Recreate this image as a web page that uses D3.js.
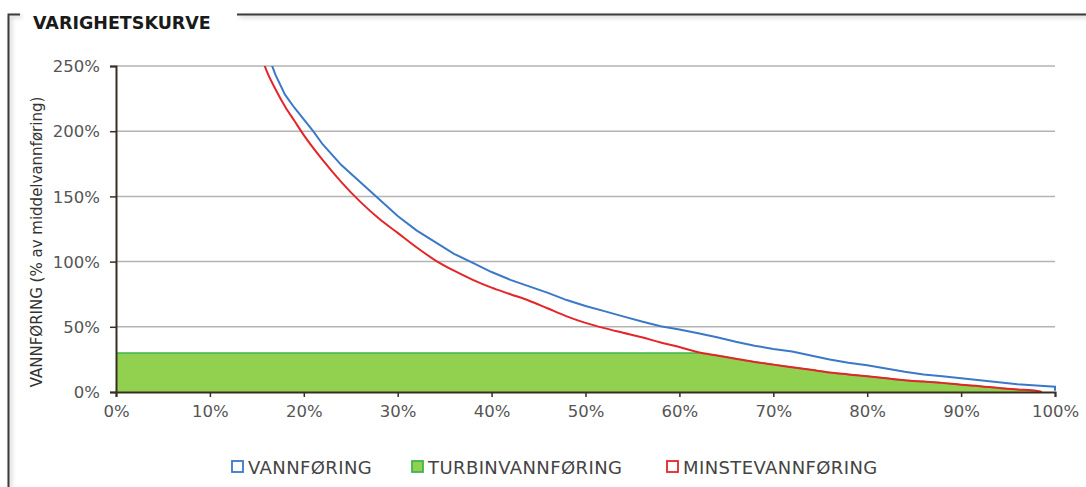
<!DOCTYPE html>
<html><head><meta charset="utf-8">
<script src="https://cdn.jsdelivr.net/npm/d3@7"></script>
<style>
body{margin:0;background:#fff;}
text{font-family:"DejaVu Sans",sans-serif;}
</style></head>
<body><svg id="c" width="1086" height="487"></svg>
<script>
const title = "VARIGHETSKURVE";
const yTitle = "VANNFØRING (% av middelvannføring)";
const xTicks = [0,10,20,30,40,50,60,70,80,90,100];
const yTicks = [0,50,100,150,200,250];
const legendLabels = ["VANNFØRING","TURBINVANNFØRING","MINSTEVANNFØRING"];

const vannDur = [16,17,18,19,20,21,22,24,26,28,30,32,34,36,38,40,42,44,46,48,50,52,54,56,58,60,62,64,66,68,70,72,74,76,78,80,82,84,86,88,90,92,94,96,98,100,100];
const vannVal = [262,243,228,218,209,200,190,174,161,148,135,124,115,106,99,92,86,81,76,70.5,66,62,58,54,50.5,48,45,42,38.5,35.5,33,31,28,25,22.5,20.5,18,15.5,13.5,12,10.5,9,7.5,6,5,4,1];

const minsteDur = [15.5,16,17,18,19,20,22,24,26,28,30,32,34,36,38,40,42,44,46,48,50,52,54,56,58,60,62,64,66,68,70,72,74,76,78,80,82,84,86,88,90,92,94,96,98,98.6];
const minsteVal = [257,247,232,219,208,197,178,161,146,133,122,111,101,93,86,80,75,70,64,58,53,49,45.5,42,38,34.5,30.5,28,25.5,23,21,19,17,15,13.5,12,10.5,9,8,7,5.5,4.5,3,2,1,0];

const turbinDur = [0,62,64,66,68,70,72,74,76,78,80,82,84,86,88,90,92,94,96,98,98.6];
const turbinVal = [30,30,28,25.5,23,21,19,17,15,13.5,12,10.5,9,8,7,5.5,4.5,3,2,1,0];

const colors = {vann:"#3b78c8", turbin:"#92d050", turbinLine:"#3fb54f", minste:"#e3262a"};

const svg = d3.select("#c");
const m = {l:116, r:1055, t:66, b:392};
const x = d3.scaleLinear().domain([0,100]).range([m.l,m.r]);
const y = d3.scaleLinear().domain([0,250]).range([m.b,m.t]);

// frame
const defs = svg.append("defs");
const f = defs.append("filter").attr("id","sh").attr("x","-5%").attr("y","-50%").attr("width","110%").attr("height","300%");
f.append("feGaussianBlur").attr("in","SourceAlpha").attr("stdDeviation",2);
f.append("feOffset").attr("dx",2).attr("dy",2).attr("result","b");
f.append("feComponentTransfer").append("feFuncA").attr("type","linear").attr("slope",0.25);
const fm = f.append("feMerge"); fm.append("feMergeNode"); fm.append("feMergeNode").attr("in","SourceGraphic");
const frame = svg.append("g").attr("filter","url(#sh)");
frame.append("path").attr("d","M20,14.5 H8.5 V487").attr("fill","none").attr("stroke","#3a3a3a").attr("stroke-width",2);
frame.append("path").attr("d","M237,14.5 H1086").attr("fill","none").attr("stroke","#3a3a3a").attr("stroke-width",2);
svg.append("text").attr("x",33).attr("y",29).attr("font-weight",700).attr("font-size",17.5)
  .attr("fill","#1a1a1a").text(title);

// grid
svg.append("g").selectAll("line").data(yTicks.filter(d=>d>0)).join("line")
  .attr("x1",m.l).attr("x2",m.r).attr("y1",d=>y(d)).attr("y2",d=>y(d))
  .attr("stroke","#b3b3b3").attr("stroke-width",1.5);

// turbine area
const clip = defs.append("clipPath").attr("id","pc");
clip.append("rect").attr("x",m.l).attr("y",m.t).attr("width",m.r-m.l+4).attr("height",m.b-m.t);
const area = d3.area().x((d,i)=>x(turbinDur[i])).y0(y(0)).y1(d=>y(d));
svg.append("path").datum(turbinVal).attr("d",area).attr("fill",colors.turbin);
svg.append("path").datum(turbinVal).attr("d",d3.line().x((d,i)=>x(turbinDur[i])).y(d=>y(d)))
  .attr("fill","none").attr("stroke",colors.turbinLine).attr("stroke-width",1.5);

// curves
const g = svg.append("g").attr("clip-path","url(#pc)");
g.append("path").datum(minsteVal).attr("d",d3.line().x((d,i)=>x(minsteDur[i])).y(d=>y(d)).curve(d3.curveMonotoneX))
  .attr("fill","none").attr("stroke",colors.minste).attr("stroke-width",2);
g.append("path").datum(vannVal).attr("d",d3.line().x((d,i)=>x(vannDur[i])).y(d=>y(d)).curve(d3.curveLinear))
  .attr("fill","none").attr("stroke",colors.vann).attr("stroke-width",2);

// axes
const xa = svg.append("g").attr("transform",`translate(0,${m.b})`)
  .call(d3.axisBottom(x).tickValues(xTicks).tickFormat(d=>d+"%").tickSizeOuter(0).tickSize(5).tickPadding(8));
const ya = svg.append("g").attr("transform",`translate(${m.l},0)`)
  .call(d3.axisLeft(y).tickValues(yTicks).tickFormat(d=>d+"%").tickSizeOuter(0).tickSize(6).tickPadding(10));
[xa,ya].forEach(a=>{
  a.select(".domain").attr("stroke","#3a2e22").attr("stroke-width",2);
  a.selectAll(".tick line").attr("stroke","#3a2e22").attr("stroke-width",1.5);
  a.selectAll("text").attr("font-size",16.5).attr("fill","#555").attr("font-family","'DejaVu Sans',sans-serif");
});
xa.selectAll("text").attr("dy","0.71em");
ya.selectAll("text").attr("dy","0.35em");

svg.append("text").attr("transform",`translate(42,${(m.t+m.b)/2+13}) rotate(-90)`)
  .attr("text-anchor","middle").attr("font-size",15).attr("fill","#333").text(yTitle);

// legend
const legX = [232,412,667];
const lg = svg.append("g");
legendLabels.forEach((t,i)=>{
  const fill = i===1 ? colors.turbin : "#fff";
  const stroke = i===0 ? colors.vann : i===1 ? colors.turbinLine : colors.minste;
  lg.append("rect").attr("x",legX[i]).attr("y",461).attr("width",11).attr("height",11)
    .attr("fill",fill).attr("stroke",stroke).attr("stroke-width",1.8);
  lg.append("text").attr("x",legX[i]+16).attr("y",474).attr("font-size",18).attr("letter-spacing",0.4).attr("fill","#444").text(t);
});
</script></body></html>
